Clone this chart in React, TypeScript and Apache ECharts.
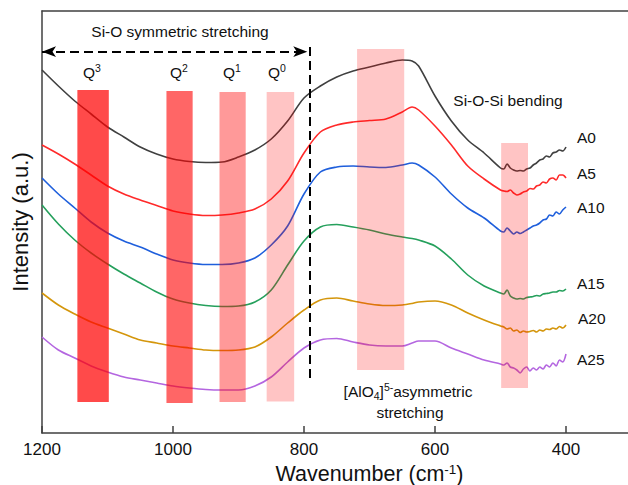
import React, { useEffect, useRef } from "react";
import * as echarts from "echarts";

// Wavenumber grid (cm-1) shared by every spectrum; finer steps in the noisy low-frequency tail
const wavenumbers = [
  1200, 1175, 1150, 1125, 1100, 1075, 1050, 1025, 1000, 975, 950, 925, 900, 875,
  850, 825, 800, 775, 750, 725, 700, 675, 650, 635, 625, 600, 575, 550, 525,
  500, 495, 490, 485, 480, 475, 470, 465, 460, 455, 450, 445, 440, 435, 430, 425,
  420, 415, 410, 405, 400,
];

const sampleNames = ["A0", "A5", "A10", "A15", "A20", "A25"];

// Stacked (offset) intensities, arbitrary units
const a0 = [
  363, 347, 332, 319, 306, 296, 286, 279, 274, 271.5, 270.5, 271, 276, 283, 294,
  312, 335, 347, 356, 362, 366, 370, 373, 372, 367, 337, 312, 293, 280,
  265, 264, 269, 265, 263, 262, 262.5, 262, 264, 265, 268, 270, 273, 274, 277, 276,
  280, 281, 283, 282, 286,
];
const a5 = [
  288, 279, 269, 258, 247, 239, 233, 227.5, 222, 219, 217.5, 218, 220, 224, 234,
  252, 280, 301, 308, 311, 312.5, 314, 321, 326, 323, 307, 288, 267, 254,
  243, 242, 241.5, 243, 240, 238, 239, 241, 242, 244.5, 244, 247, 248, 251, 250, 254,
  255, 253, 258, 258, 255,
];
const a10 = [
  255, 239, 225, 211, 200, 192, 186, 179, 173, 170, 168.5, 168.5, 170, 175, 188,
  207, 239, 261, 266, 267, 266, 265.5, 268, 270, 268, 256, 239, 225, 215,
  202, 201, 205, 202, 199, 201, 199.5, 201, 203, 205, 207, 208, 210, 213, 214, 218,
  217, 221, 219, 223, 226,
];
const a15 = [
  228, 209, 193, 180, 169, 159, 150, 141, 134, 130, 127.5, 126.5, 127, 131, 143,
  168, 192, 206, 208.5, 206, 203, 199, 196, 194.5, 193, 187, 174, 158, 147,
  140, 139, 143, 137, 135, 134, 134.5, 134, 135.5, 136, 136.5, 137.5, 137, 139, 139.5, 140,
  141, 141, 142.5, 142, 144,
];
const a20 = [
  140, 128, 119, 111, 105, 99, 93, 90, 87, 85, 83, 82.5, 83, 86, 96, 110, 123, 133,
  135, 132, 129, 127.5, 128, 129.5, 131, 132, 128, 120, 113,
  107, 106, 104, 105, 102, 103, 100.5, 102, 101, 101.5, 102.5, 101, 103, 102, 104, 103.5,
  105, 104, 106.5, 105, 108,
];
const a25 = [
  96, 83, 75, 67, 61, 56, 53, 50, 47, 45, 43.5, 43, 43, 47, 56, 71, 85, 93, 94.5,
  91, 88, 87, 87, 90, 92, 92, 85, 79, 73,
  69, 68, 70, 66, 65, 63, 60, 64, 66, 62, 65, 63, 66, 64, 68, 66,
  70, 67, 73, 71, 79,
];
const spectra = [a0, a5, a10, a15, a20, a25];

// Highlighted assignment bands: Q3, Q2, Q1, Q0, [AlO4], Si-O-Si bending
const bandFrom = [1146, 1010, 929, 857, 719, 499];
const bandTo = [1098, 970, 889, 815, 647, 458];
const bandTop = [343, 342, 341, 341, 384, 290];
const bandBottom = [31, 30, 31, 31.5, 63, 45];

// Dashed boundary of the Si-O stretching region
const stretchEdge = 791;
const arrowLevel = 381.3;
const arrowStart = 1200;
const arrowEnd = 795;
const edgeTop = 386;
const edgeBottom = 52;

const lineColors = ["#404040", "#ff2a2a", "#1f5fdc", "#25a05c", "#d4960c", "#b466e0"];
const bandColors = [
  "rgba(255,0,0,0.71)",
  "rgba(255,0,0,0.6)",
  "rgba(255,0,0,0.4)",
  "rgba(255,0,0,0.23)",
  "rgba(255,0,0,0.22)",
  "rgba(255,0,0,0.23)",
];

const FONT = "'Liberation Sans', Arial, Helvetica, sans-serif";
const TEXT_SIZE = 15.5;
const SCRIPT_SIZE = 10.5;

const richScript = {
  b: { font: `${TEXT_SIZE}px ${FONT}`, fontSize: TEXT_SIZE, fontFamily: FONT, lineHeight: 20, fill: "#111" },
  sup: { font: `${SCRIPT_SIZE}px ${FONT}`, fontSize: SCRIPT_SIZE, fontFamily: FONT, lineHeight: 12, verticalAlign: "top", fill: "#111" },
  sub: { font: `${SCRIPT_SIZE}px ${FONT}`, fontSize: SCRIPT_SIZE, fontFamily: FONT, lineHeight: 12, verticalAlign: "bottom", fill: "#111" },
};

function label(text: string, x: number, y: number, align: string = "center") {
  return {
    type: "text",
    x,
    y,
    silent: true,
    z: 20,
    style: {
      text,
      font: `${TEXT_SIZE}px ${FONT}`,
      fill: "#111",
      align,
      verticalAlign: "middle",
      rich: richScript,
    },
  };
}

export default function App() {
  const ref = useRef<HTMLDivElement>(null);

  useEffect(() => {
    if (!ref.current) return;
    const chart = echarts.init(ref.current, undefined, { renderer: "svg" });

    const lineSeries = sampleNames.map((name, k) => ({
      name,
      type: "line",
      data: wavenumbers.map((w, i) => [w, spectra[k][i]]),
      showSymbol: false,
      smooth: 0.3,
      lineStyle: { color: lineColors[k], width: 1.6 },
      z: 2,
      silent: true,
    }));

    const axisBase = {
      type: "value",
      min: 200,
      max: 1200,
      interval: 200,
      inverse: true,
      splitLine: { show: false },
    };

    chart.setOption({
      animation: false,
      grid: { left: 42, right: -69, top: 11, bottom: 52, outerBoundsMode: "none", containLabel: false },
      xAxis: [
        {
          ...axisBase,
          position: "bottom",
          axisLine: { show: true, lineStyle: { color: "#404040", width: 1.5 } },
          axisTick: {
            show: true,
            inside: true,
            length: 7,
            lineStyle: { color: "#404040", width: 1.5 },
          },
          axisLabel: {
            fontSize: 17,
            fontFamily: FONT,
            color: "#111",
            margin: 8,
            formatter: (v: number) => (v >= 400 ? String(v) : ""),
          },
          name: "Wavenumber (cm{sup|-1})",
          nameLocation: "middle",
          nameGap: 27,
          nameTextStyle: {
            fontSize: 21.5,
            fontFamily: FONT,
            color: "#111",
            lineHeight: 22,
            rich: {
              sup: { fontSize: 13.5, fontFamily: FONT, color: "#111", lineHeight: 14, verticalAlign: "top" },
            },
          },
        },
        {
          ...axisBase,
          position: "top",
          axisLine: { show: true, lineStyle: { color: "#404040", width: 1.5 } },
          axisTick: { show: false },
          axisLabel: { show: false },
        },
      ],
      yAxis: {
        type: "value",
        min: 0,
        max: 422,
        axisLine: { show: true, lineStyle: { color: "#404040", width: 1.5 } },
        axisTick: { show: false },
        axisLabel: { show: false },
        splitLine: { show: false },
        name: "Intensity (a.u.)",
        nameLocation: "middle",
        nameGap: 11,
        nameTextStyle: { fontSize: 22, fontFamily: FONT, color: "#111" },
      },
      series: [
        ...lineSeries,
        {
          type: "custom",
          z: 5,
          silent: true,
          data: bandFrom.map((f, i) => [f, bandTo[i], bandTop[i], bandBottom[i]]),
          encode: { x: [0, 1], y: [2, 3] },
          renderItem: (params: any, api: any) => {
            const p1 = api.coord([api.value(0), api.value(2)]);
            const p2 = api.coord([api.value(1), api.value(3)]);
            return {
              type: "rect",
              shape: {
                x: Math.min(p1[0], p2[0]),
                y: p1[1],
                width: Math.abs(p2[0] - p1[0]),
                height: p2[1] - p1[1],
              },
              style: { fill: bandColors[params.dataIndex] },
            };
          },
        },
        {
          type: "line",
          data: [],
          z: 6,
          silent: true,
          markLine: {
            silent: true,
            animation: false,
            symbol: ["arrow", "arrow"],
            symbolSize: [8, 14],
            label: { show: false },
            lineStyle: { color: "#000", width: 2, type: [9, 5] },
            data: [[{ coord: [arrowStart, arrowLevel] }, { coord: [arrowEnd, arrowLevel] }]],
          },
        },
        {
          type: "line",
          data: [],
          z: 6,
          silent: true,
          markLine: {
            silent: true,
            animation: false,
            symbol: ["none", "none"],
            label: { show: false },
            lineStyle: { color: "#000", width: 2, type: [9, 5] },
            data: [[{ coord: [stretchEdge, edgeTop] }, { coord: [stretchEdge, edgeBottom] }]],
          },
        },
      ],
      graphic: [
        label("{b|Si-O symmetric stretching}", 180, 31),
        label("{b|Q}{sup|3}", 92, 72),
        label("{b|Q}{sup|2}", 179, 72),
        label("{b|Q}{sup|1}", 232, 72),
        label("{b|Q}{sup|0}", 277, 72),
        label("{b|Si-O-Si bending}", 508, 100),
        label("{b|A0}", 577, 137, "left"),
        label("{b|A5}", 577, 173, "left"),
        label("{b|A10}", 577, 207, "left"),
        label("{b|A15}", 577, 283, "left"),
        label("{b|A20}", 578, 318, "left"),
        label("{b|A25}", 577, 359, "left"),
        label("{b|[AlO}{sub|4}{b|]}{sup|5-}{b|asymmetric}", 408, 391),
        label("{b|stretching}", 410, 412),
      ],
    });

    return () => chart.dispose();
  }, []);

  return (
    <div
      ref={ref}
      style={{ position: "absolute", left: 0, top: 0, width: 628, height: 485 }}
    />
  );
}
